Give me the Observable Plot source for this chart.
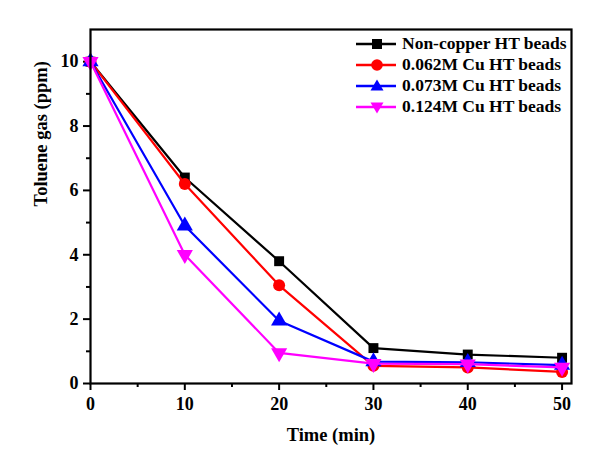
<!DOCTYPE html>
<html><head><meta charset="utf-8">
<script src="https://cdn.jsdelivr.net/npm/d3@7"></script>
<script src="https://cdn.jsdelivr.net/npm/@observablehq/plot@0.6"></script>
<style>
body{margin:0;background:#fff;}
#wrap{position:relative;width:614px;height:459px;font-family:"Liberation Serif","Times New Roman",serif;font-weight:bold;}
#legend{position:absolute;left:356px;top:33px;font-size:17.5px;}
.row{display:flex;align-items:center;height:21px;}
.row svg{margin-right:6px;}
</style></head>
<body><div id="wrap"><div id="chart"></div><div id="legend"></div></div>
<script>
const times = [0, 10, 20, 30, 40, 50];
const seriesNames = ["Non-copper HT beads", "0.062M Cu HT beads", "0.073M Cu HT beads", "0.124M Cu HT beads"];
const nonCopper = [10, 6.4, 3.8, 1.1, 0.9, 0.8];
const cu062 = [10, 6.2, 3.05, 0.55, 0.5, 0.36];
const cu073 = [10, 4.9, 1.95, 0.68, 0.66, 0.57];
const cu124 = [10, 4.0, 0.95, 0.62, 0.6, 0.5];
const colors = ["#000000", "#ff0000", "#0000ff", "#ff00ff"];
const symbols = ["square", "circle", "triangle", "triangle"];
const rotations = [0, 0, 0, 180];
const xMajor = [0, 10, 20, 30, 40, 50];
const xMinor = [5, 15, 25, 35, 45];
const yMajor = [0, 2, 4, 6, 8, 10];
const yMinor = [1, 3, 5, 7, 9];

const all = [nonCopper, cu062, cu073, cu124];
const data = [];
all.forEach((vals, s) => vals.forEach((v, i) => data.push({t: times[i], v, s})));

const marks = [];
all.forEach((vals, s) => {
  const d = data.filter(p => p.s === s);
  marks.push(Plot.line(d, {x: "t", y: "v", stroke: colors[s], strokeWidth: 2.2}));
  marks.push(Plot.dot(d, {x: "t", y: "v", fill: colors[s], stroke: "none", symbol: symbols[s], r: s === 0 ? 5.6 : 6, rotate: rotations[s]}));
});

const chart = Plot.plot({
  width: 614, height: 459,
  marginLeft: 90, marginRight: 43, marginTop: 29, marginBottom: 76,
  style: {fontFamily: '"Liberation Serif","Times New Roman",serif', fontWeight: "bold", fontSize: "18px", color: "#000", background: "#fff"},
  x: {domain: [0, 51], label: null},
  y: {domain: [0, 11], label: null},
  marks: [
    Plot.axisX(xMajor, {tickSize: 7, strokeWidth: 2, tickPadding: 7, fontSize: 18, label: null}),
    Plot.axisX(xMinor, {tickSize: 4, strokeWidth: 2, text: null, label: null}),
    Plot.axisY(yMajor, {tickSize: 7, strokeWidth: 2, tickPadding: 5, fontSize: 18, label: null}),
    Plot.axisY(yMinor, {tickSize: 4, strokeWidth: 2, text: null, label: null}),
    ...marks,
    Plot.frame({stroke: "#000", strokeWidth: 2.2}),
    Plot.text(["Time (min)"], {frameAnchor: "bottom", dy: 57, fontSize: 18.5, fontWeight: "bold"}),
    Plot.text(["Toluene gas (ppm)"], {frameAnchor: "left", dx: -49, rotate: -90, fontSize: 18.5, fontWeight: "bold"})
  ]
});
document.getElementById("chart").appendChild(chart);

const legend = document.getElementById("legend");
seriesNames.forEach((name, s) => {
  const row = document.createElement("div");
  row.className = "row";
  let sym;
  if (s === 0) sym = '<rect x="16" y="5" width="10" height="10" fill="' + colors[s] + '"/>';
  else if (s === 1) sym = '<circle cx="21" cy="10" r="5.8" fill="' + colors[s] + '"/>';
  else if (s === 2) sym = '<polygon points="21,3.5 27.5,14.5 14.5,14.5" fill="' + colors[s] + '"/>';
  else sym = '<polygon points="21,16.5 27.5,5.5 14.5,5.5" fill="' + colors[s] + '"/>';
  row.innerHTML = '<svg width="40" height="20"><line x1="0" x2="40" y1="10" y2="10" stroke="' + colors[s] + '" stroke-width="2.5"/>' + sym + '</svg><span>' + name + '</span>';
  legend.appendChild(row);
});
</script></body></html>
